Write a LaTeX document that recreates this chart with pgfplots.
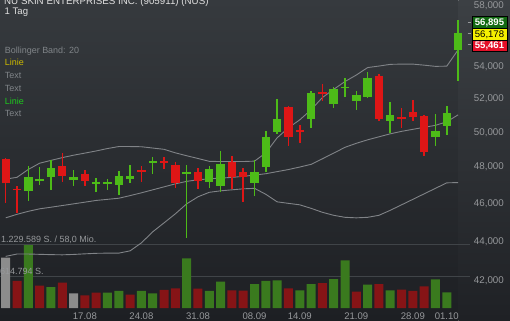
\documentclass[border=0pt]{standalone}
\usepackage{fontspec}
\setmainfont{Liberation Sans}
\usepackage{pgfplots}
\pgfplotsset{compat=1.18}
\usepackage{pgfplotstable}

\definecolor{bgtop}{RGB}{54,58,62}
\definecolor{bgbot}{RGB}{29,31,35}
\definecolor{striptop}{RGB}{60,64,68}
\definecolor{stripbot}{RGB}{31,33,37}
\definecolor{cgreen}{RGB}{77,187,24}
\definecolor{cred}{RGB}{222,22,22}
\definecolor{vgreen}{RGB}{58,122,30}
\definecolor{vred}{RGB}{134,20,22}
\definecolor{vgrey}{RGB}{140,140,140}
\definecolor{bandc}{RGB}{128,131,135}
\definecolor{gridc}{RGB}{64,68,72}
\definecolor{tickc}{RGB}{150,152,155}
\definecolor{legc}{RGB}{128,132,136}
\definecolor{liniey}{RGB}{205,185,0}
\definecolor{linieg}{RGB}{30,200,30}
\definecolor{boxg}{RGB}{18,105,18}
\definecolor{boxy}{RGB}{245,240,0}
\definecolor{boxr}{RGB}{228,16,40}

\pgfplotstableread{
i o h l c
2 46701 48074 46139 47442
3 47208 48000 47013 47364
4 47475 48416 46740 47961
6 47291 47849 46974 47442
8 47052 47420 46614 47180
9 47069 47330 46740 47163
10 47013 47810 46467 47531
11 47330 48131 47107 47515
13 48228 48570 47609 48376
16 47626 48131 44162 47704
18 47196 48074 46832 47888
19 46958 48946 46647 48171
22 47141 48416 46374 47754
23 48034 50091 47754 49723
24 50050 51990 49915 50803
27 50803 52502 50251 52397
29 51706 52760 51482 52600
30 52654 53290 52114 52740
31 51906 52502 51344 52255
32 52151 53667 52053 53290
34 50702 51809 49991 51041
38 49741 51102 49235 50074
39 50389 51543 49840 51144
40 55089 57064 53139 56181
}\greencandles

\pgfplotstableread{
i o h l c
0 48473 48547 46046 47107
1 46794 46958 45511 46712
5 48091 48798 47196 47515
7 47609 47849 46974 47252
12 47816 48074 47196 47738
14 48376 48570 47888 48228
15 48131 48319 46832 47141
17 47738 47961 46778 47236
20 48319 48644 46778 47475
21 47754 47944 46101 47475
25 51484 51543 49218 49758
26 50140 50430 49410 50050
28 52459 52933 51906 52317
33 53454 53542 50702 50785
35 50910 51447 50251 50820
36 51204 51948 50685 50904
37 50981 51023 48661 48889
}\redcandles

\pgfplotstableread{
i u m lo
0 47331 45228 43228
1 47431 45415 43346
2 47872 45575 43346
3 48222 45709 43331
4 48382 45794 43315
5 48541 45885 43305
6 48678 45976 43325
7 48798 46068 43356
8 48923 46161 43382
9 49061 46221 43392
10 49177 46281 43392
11 49177 46423 43509
12 49166 46576 43918
13 49090 46740 44491
14 49015 46903 44962
15 48815 47069 45442
16 48649 47208 45976
17 48490 47292 46358
18 48330 47348 46603
19 48319 47387 46685
20 48319 47426 46740
21 48319 47487 46794
22 48342 47554 46821
23 48815 47632 46494
24 49683 47749 46085
25 50269 47866 46003
26 50744 48006 45923
27 51344 48160 45736
28 52089 48473 45522
29 52595 48798 45362
30 53077 49131 45255
31 53485 49363 45228
32 53956 49567 45255
33 54051 49741 45362
34 54160 49915 45629
35 54173 50062 45923
36 54173 50180 46221
37 54109 50299 46521
38 54032 50417 46821
39 54045 50625 47124
40 55089 51041 47141
}\bands

\pgfplotstableread{
i v
0 966000
6 282000
}\volgrey
\pgfplotstableread{
i v
1 519000
3 428000
5 486000
7 244000
8 294000
11 256000
14 346000
15 378000
17 371000
20 340000
21 332000
25 378000
28 480000
31 313000
33 461000
35 352000
36 327000
37 417000
}\volred
\pgfplotstableread{
i v
2 1210000
4 403000
9 294000
10 327000
12 327000
13 282000
16 955000
18 327000
19 505000
22 461000
23 519000
24 532000
26 340000
27 461000
29 557000
30 916000
32 448000
34 340000
38 551000
39 302000
}\volgreen

\pgfplotsset{
  candle/.style 2 args={only marks, mark=*, mark size=0pt,
    mark options={draw=none, fill=none},
    error bars/.cd, y dir=plus, y explicit, error mark=none,
    error bar style={line width=#1, color=#2}},
}

\begin{document}
\begin{tikzpicture}[x=1bp,y=1bp]
\useasboundingbox (0,0) rectangle (510,320);
\clip (0,0) rectangle (510,320);
\shade[top color=bgtop, bottom color=bgbot] (0,0) rectangle (458.5,320);
\shade[top color=striptop, bottom color=stripbot] (458.5,0) rectangle (510,320);

% volume pane
\begin{axis}[at={(0,0)}, anchor=south west, width=510bp, height=320bp,
  scale only axis, xmin=-0.504, xmax=44.59, ymin=-230548, ymax=5917297,
  hide axis]
\addplot[draw=gridc, line width=1bp] coordinates {(-0.6,614794) (41.05,614794)};
\addplot[draw=gridc, line width=1bp] coordinates {(-0.6,1229589) (41.05,1229589)};
\addplot[ybar, bar width=9bp, bar shift=0pt, fill=vgrey, draw=none] table[x=i,y=v] {\volgrey};
\addplot[ybar, bar width=9bp, bar shift=0pt, fill=vred, draw=none] table[x=i,y=v] {\volred};
\addplot[ybar, bar width=9bp, bar shift=0pt, fill=vgreen, draw=none] table[x=i,y=v] {\volgreen};
\end{axis}

\node[anchor=base west, inner sep=0, text=tickc, font=\fontsize{9}{10}\selectfont] at (1,78) {1.229.589 S. / 58,0 Mio.};
\node[anchor=base west, inner sep=0, text=tickc, font=\fontsize{9}{10}\selectfont] at (0,46) {614.794 S.};

% price pane
\begin{axis}[at={(0,0)}, anchor=south west, width=510bp, height=320bp,
  scale only axis, xmin=-0.504, xmax=44.59,
  ymode=log, ymin=40120, ymax=58420,
  axis line style={draw=none}, major tick length=0pt, minor tick length=0pt,
  ytick={42000,44000,46000,48000,50000,52000,54000,58000},
  yticklabels={{42,000},{44,000},{46,000},{48,000},{50,000},{52,000},{54,000},{58,000}},
  yticklabel pos=right,
  yticklabel style={anchor=east, inner sep=0pt, xshift=-6bp, text=tickc, font=\fontsize{9.8}{10}\selectfont},
  xtick={7,12,17,22,26,31,36,39},
  xticklabels={17.08,24.08,31.08,08.09,14.09,21.09,28.09,01.10},
  xticklabel style={anchor=base, inner sep=0pt, yshift=0.4bp, text=tickc, font=\fontsize{9.6}{10}\selectfont},
  ]
\addplot[bandc, line width=0.9bp, mark=none] table[x=i,y=u] {\bands};
\addplot[bandc, line width=0.9bp, mark=none] table[x=i,y=m] {\bands};
\addplot[bandc, line width=0.9bp, mark=none] table[x=i,y=lo] {\bands};
% wicks
\addplot[candle={1.5bp}{cgreen}]
  table[x=i, y=l, y error plus expr=\thisrow{h}-\thisrow{l}] {\greencandles};
\addplot[candle={1.5bp}{cred}]
  table[x=i, y=l, y error plus expr=\thisrow{h}-\thisrow{l}] {\redcandles};
% bodies
\addplot[candle={8.4bp}{cgreen}]
  table[x=i, y=o, y error plus expr=\thisrow{c}-\thisrow{o}] {\greencandles};
\addplot[candle={8.4bp}{cred}]
  table[x=i, y=c, y error plus expr=\thisrow{o}-\thisrow{c}] {\redcandles};
\end{axis}

% price boxes
\foreach \yy in {297.5,286.5,275.7} {\draw[tickc, line width=0.8bp] (467.5,\yy) -- (471,\yy);}
\node[draw=black, line width=0.8bp, fill=boxg, text=white, inner sep=0pt, minimum width=35bp, minimum height=11.6bp, font=\bfseries\fontsize{9.6}{10}\selectfont] at (489.5,297.3) {56,895};
\node[draw=black, line width=0.8bp, fill=boxy, text=black, inner sep=0pt, minimum width=35bp, minimum height=11.6bp, font=\fontsize{9.6}{10}\selectfont] at (489.5,285.7) {56,178};
\node[draw=black, line width=0.8bp, fill=boxr, text=white, inner sep=0pt, minimum width=35bp, minimum height=11.6bp, font=\bfseries\fontsize{9.6}{10}\selectfont] at (489.5,274.1) {55,461};

% title and legend
\node[anchor=base west, inner sep=0, text=white!88!black, font=\fontsize{9.8}{10}\selectfont] at (4,315.5) {NU SKIN ENTERPRISES INC. (905911) (NUS)};
\node[anchor=base west, inner sep=0, text=white!88!black, font=\fontsize{9.6}{10}\selectfont] at (4.5,306) {1 Tag};
\node[anchor=base west, inner sep=0, text=legc, font=\fontsize{9}{10}\selectfont] at (4.7,266.7) {Bollinger Band: 20};
\node[anchor=base west, inner sep=0, text=liniey, font=\fontsize{9}{10}\selectfont] at (4.7,254.7) {Linie};
\node[anchor=base west, inner sep=0, text=legc, font=\fontsize{9}{10}\selectfont] at (4.7,241.3) {Text};
\node[anchor=base west, inner sep=0, text=legc, font=\fontsize{9}{10}\selectfont] at (4.7,228.7) {Text};
\node[anchor=base west, inner sep=0, text=linieg, font=\fontsize{9}{10}\selectfont] at (4.7,216) {Linie};
\node[anchor=base west, inner sep=0, text=legc, font=\fontsize{9}{10}\selectfont] at (4.7,203.3) {Text};
\end{tikzpicture}
\end{document}
